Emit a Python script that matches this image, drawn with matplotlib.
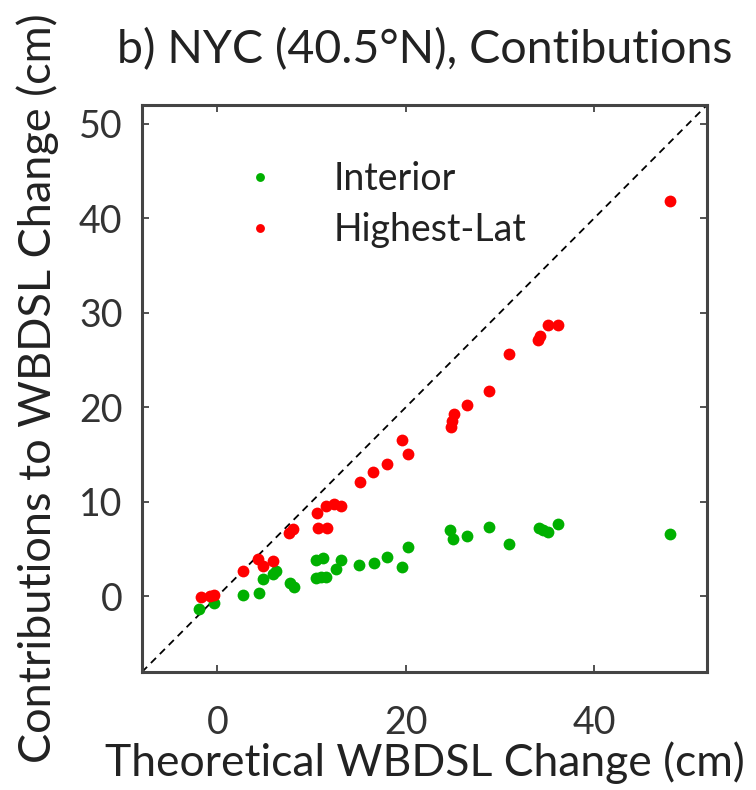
import matplotlib
matplotlib.use('Agg')
import matplotlib.pyplot as plt
import numpy as np

plt.rcParams['font.family'] = ['Lato', 'DejaVu Sans']

# theoretical change vs contributions (cm)
interior_x = [-1.9, -0.4, 2.7, 4.4, 4.8, 5.9, 6.2, 7.7, 8.1,
              10.5, 11.2, 10.5, 11.0, 11.5, 12.6, 13.1, 15.0, 16.6, 18.0, 19.6, 20.3,
              24.7, 25.0, 26.5, 28.8, 31.0, 34.2, 34.6, 35.1, 36.2, 48.1]
interior_y = [-1.3, -0.7, 0.1, 0.4, 1.8, 2.4, 2.7, 1.4, 1.0,
              3.9, 4.1, 1.9, 2.0, 2.0, 2.9, 3.8, 3.3, 3.5, 4.2, 3.1, 5.2,
              7.0, 6.1, 6.4, 7.3, 5.5, 7.2, 7.0, 6.8, 7.7, 6.6]

highlat_x = [-1.7, -0.8, -0.4, 2.7, 4.3, 4.9, 5.9, 7.6, 8.0,
             10.6, 10.7, 11.6, 11.5, 12.4, 13.1,
             15.1, 16.5, 18.0, 19.6, 20.2,
             24.8, 24.9, 25.1, 26.5, 28.8, 31.0, 34.1, 34.3, 35.1, 36.2, 48.1]
highlat_y = [-0.1, 0.0, 0.1, 2.7, 4.0, 3.2, 3.7, 6.7, 7.1,
             8.8, 7.2, 7.2, 9.6, 9.8, 9.6,
             12.1, 13.2, 14.0, 16.5, 15.1,
             17.9, 18.6, 19.3, 20.2, 21.7, 25.6, 27.1, 27.6, 28.7, 28.7, 41.8]

lims = [-8, 52]

fig = plt.figure(figsize=(7.56, 7.9), dpi=100)
ax = fig.add_axes([0.1878, 0.1494, 0.7474, 0.7177])

ax.plot(lims, lims, 'k--', lw=1.3, dashes=(4, 3))
ax.plot(interior_x, interior_y, 'o', color='#00b000', ms=8.5, mec='none', label='Interior')
ax.plot(highlat_x, highlat_y, 'o', color='#ff0000', ms=8.5, mec='none', label='Highest-Lat')

ax.set_xlim(lims)
ax.set_ylim(lims)
ax.set_xticks([0, 20, 40])
ax.set_yticks([0, 10, 20, 30, 40, 50])
ax.tick_params(direction='in', top=True, right=True, length=5, width=1.2,
               labelsize=27, colors='#333333')
ax.tick_params(axis='x', pad=24)
ax.tick_params(axis='y', pad=14)
for s in ax.spines.values():
    s.set_linewidth(2.2)
    s.set_color('#444444')

ax.set_xlabel('Theoretical WBDSL Change (cm)', fontsize=32, color='#222222', labelpad=0)
ax.set_ylabel('Contributions to WBDSL Change (cm)', fontsize=32.5, color='#222222', labelpad=14)
ax.set_title('b) NYC (40.5°N), Contibutions', fontsize=33.5, color='#222222', pad=30)

leg = ax.legend(loc='upper left', bbox_to_anchor=(0.10, 0.96), frameon=False,
                fontsize=27, markerscale=0.75, handlelength=1.5, handletextpad=1.2,
                labelspacing=0.4)
for t in leg.get_texts():
    t.set_color('#222222')

fig.savefig('out.png', dpi=100)
